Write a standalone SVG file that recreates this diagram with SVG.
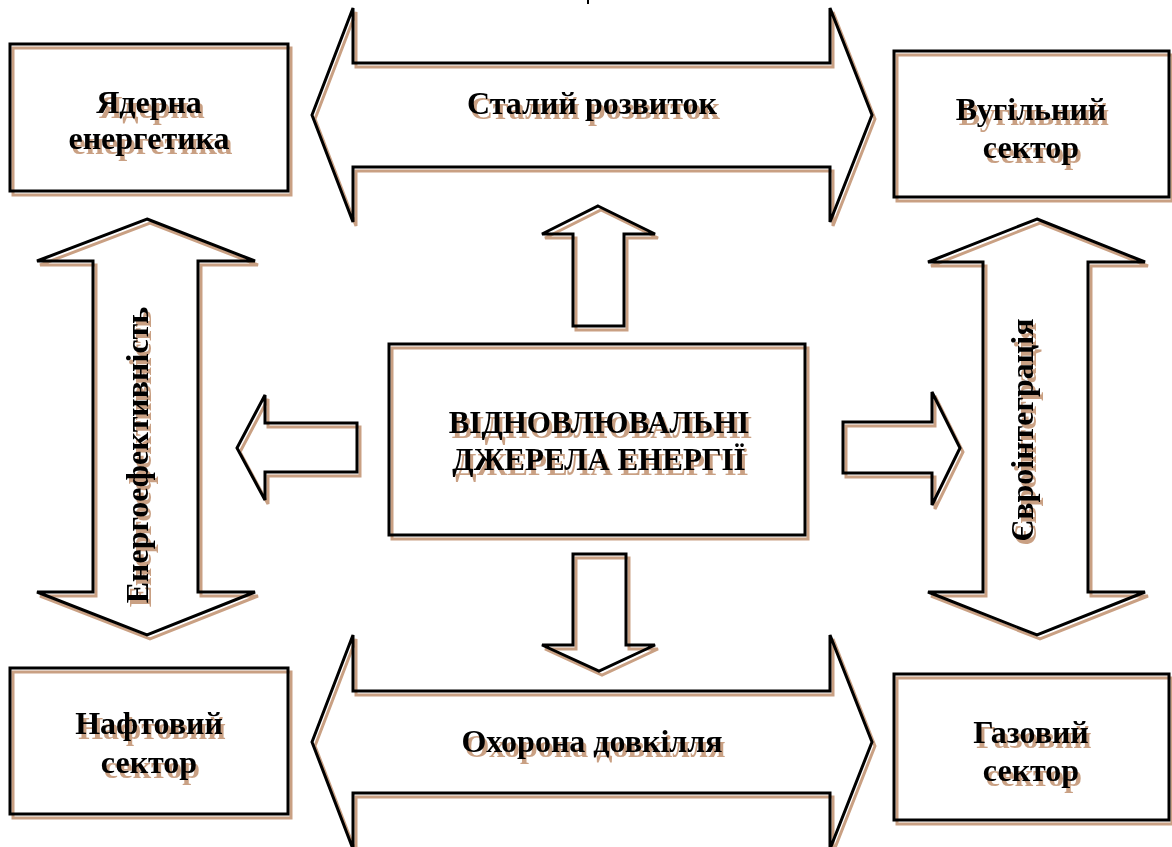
<svg xmlns="http://www.w3.org/2000/svg" width="1172" height="847" viewBox="0 0 1172 847">
<style>
.ln{fill:none;stroke:#000;stroke-width:3;stroke-linejoin:miter}
.t{font-family:"Liberation Serif","Times New Roman",serif;font-weight:bold;font-size:32px;text-anchor:middle;fill:#000;filter:url(#tshadow)}
.c{font-size:31px}
.s{filter:url(#shadow)}
</style>
<defs>
<filter id="shadow" x="-10%" y="-10%" width="120%" height="120%" color-interpolation-filters="sRGB">
<feOffset in="SourceAlpha" dx="3" dy="4" result="o"/>
<feFlood flood-color="#c9a083"/>
<feComposite in2="o" operator="in" result="sh"/>
<feMerge><feMergeNode in="sh"/><feMergeNode in="SourceGraphic"/></feMerge>
</filter>
<filter id="tshadow" x="-10%" y="-20%" width="120%" height="150%" color-interpolation-filters="sRGB">
<feOffset in="SourceAlpha" dx="3" dy="5" result="o"/>
<feFlood flood-color="#c9a083"/>
<feComposite in2="o" operator="in" result="sh"/>
<feMerge><feMergeNode in="sh"/><feMergeNode in="SourceGraphic"/></feMerge>
</filter>
<filter id="vshadow" x="-20%" y="-10%" width="150%" height="120%" color-interpolation-filters="sRGB">
<feOffset in="SourceAlpha" dx="3" dy="4" result="o"/>
<feFlood flood-color="#c9a083"/>
<feComposite in2="o" operator="in" result="sh"/>
<feMerge><feMergeNode in="sh"/><feMergeNode in="SourceGraphic"/></feMerge>
</filter>
</defs>
<rect width="1172" height="847" fill="#fff"/>
<rect x="587" y="0" width="2" height="4" fill="#000"/>

<g id="connectors" class="s">
<path id="arrow-up" class="ln" d="M598,206 L655,234 L624,234 L624,326 L573,326 L573,234 L542,234 Z"/>
<path id="arrow-down" class="ln" d="M573,554 L626,554 L626,645 L655,645 L599,671 L542,645 L573,645 Z"/>
<path id="arrow-left" class="ln" d="M237,448 L265,395 L265,423 L357,423 L357,472 L265,472 L265,500 Z"/>
<path id="arrow-right" class="ln" d="M843,422 L932,422 L932,392 L960,448 L932,505 L932,473 L843,473 Z"/>
</g>

<g id="sustainable">
<path class="ln s" d="M312,115 L353,8 L353,63 L830,63 L830,8 L872,115 L830,222 L830,167 L353,167 L353,222 Z"/>
<text class="t" x="592" y="114">Сталий розвиток</text>
</g>

<g id="environment">
<path class="ln s" d="M312,742 L353,635 L353,691 L830,691 L830,635 L872,742 L830,849 L830,793 L353,793 L353,849 Z"/>
<text class="t" x="592" y="752">Охорона довкілля</text>
</g>

<g id="efficiency">
<path class="ln s" d="M147,219 L255,261 L198,261 L198,592 L255,592 L147,635 L37,592 L93,592 L93,261 L37,261 Z"/>
<g style="filter:url(#vshadow)"><text class="t" style="filter:none" transform="translate(148,455) rotate(-90)">Енергоефективність</text></g>
</g>

<g id="eurointegration">
<path class="ln s" d="M1037,219 L1145,262 L1088,262 L1088,592 L1145,592 L1037,635 L928,592 L983,592 L983,262 L928,262 Z"/>
<g style="filter:url(#vshadow)"><text class="t" style="filter:none" transform="translate(1033,430) rotate(-90)">Євроінтеграція</text></g>
</g>

<g id="nuclear">
<rect class="ln s" x="10" y="44" width="278" height="147"/>
<text class="t" x="149" y="113">Ядерна</text>
<text class="t" x="149" y="149">енергетика</text>
</g>

<g id="coal">
<rect class="ln s" x="894" y="51" width="275" height="146"/>
<text class="t" x="1031" y="120">Вугільний</text>
<text class="t" x="1031" y="158">сектор</text>
</g>

<g id="oil">
<rect class="ln s" x="10" y="668" width="278" height="146"/>
<text class="t" x="149" y="734">Нафтовий</text>
<text class="t" x="149" y="773">сектор</text>
</g>

<g id="gas">
<rect class="ln s" x="894" y="674" width="275" height="146"/>
<text class="t" x="1031" y="743">Газовий</text>
<text class="t" x="1031" y="781">сектор</text>
</g>

<g id="renewables">
<rect class="ln s" x="389" y="344" width="416" height="191"/>
<text class="t c" x="599" y="433">ВІДНОВЛЮВАЛЬНІ</text>
<text class="t c" x="599" y="470">ДЖЕРЕЛА ЕНЕРГІЇ</text>
</g>
</svg>
